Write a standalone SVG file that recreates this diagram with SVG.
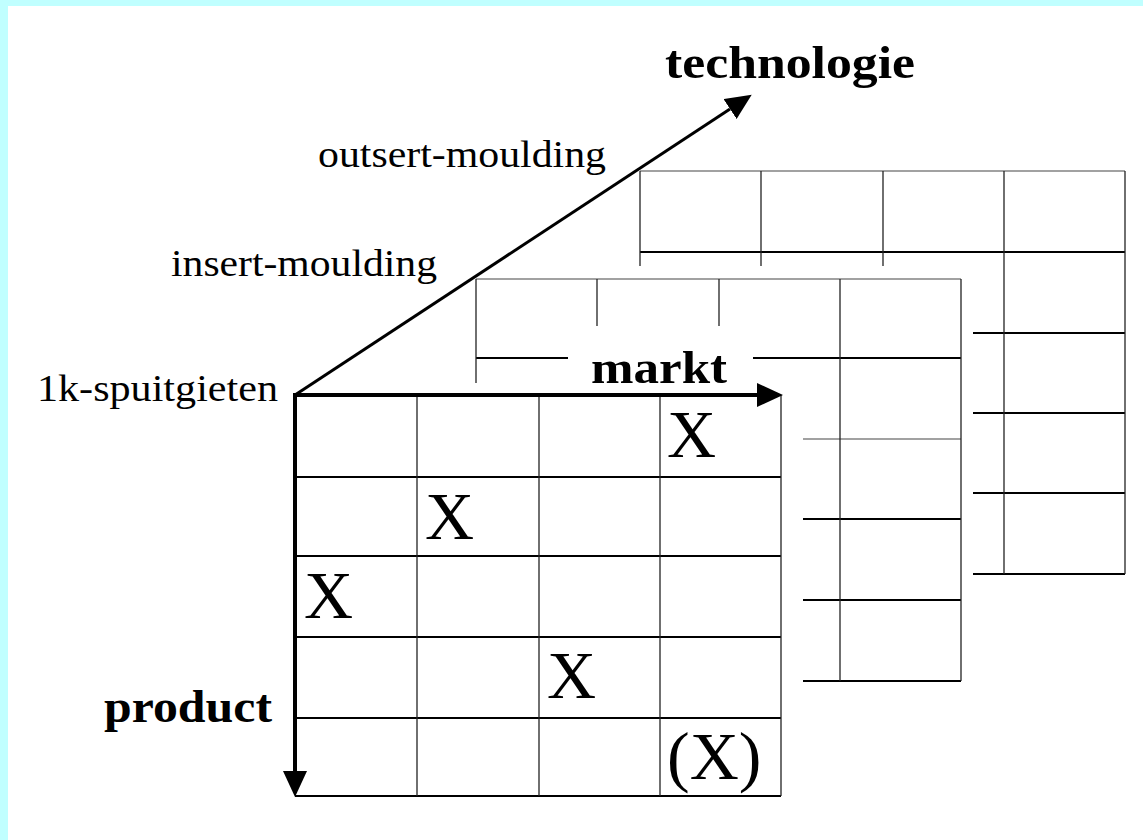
<svg xmlns="http://www.w3.org/2000/svg" width="1143" height="840" viewBox="0 0 1143 840">
  <style>
    .bg { fill: #ffffff; }
    .frame { fill: #c0ffff; }
    .v { stroke: #222; stroke-width: 1.3; fill: none; }
    .h { stroke: #000; stroke-width: 1.8; fill: none; }
    .t { stroke: #444; stroke-width: 1.2; fill: none; }
    .axis { stroke: #000; fill: none; }
    .lbl { font-family: "Liberation Serif", "Times New Roman", serif; font-size: 38px; fill: #000; }
    .bold { font-family: "Liberation Serif", "Times New Roman", serif; font-weight: bold; font-size: 46px; fill: #000; }
    .x { font-family: "Liberation Serif", "Times New Roman", serif; font-size: 68px; fill: #000; }
  </style>
  <defs>
    <marker id="arrow" viewBox="0 -12 26 24" refX="0" refY="0" markerWidth="26" markerHeight="24" markerUnits="userSpaceOnUse" orient="auto">
      <path d="M0,-12 L26,0 L0,12 z" fill="#000"/>
    </marker>
  </defs>

  <rect class="bg" x="0" y="0" width="1143" height="840"/>
  <rect class="frame" x="0" y="0" width="1143" height="6"/>
  <rect class="frame" x="0" y="0" width="8" height="840"/>

  <g id="grid-back">
    <line class="t" x1="640" y1="171" x2="1125" y2="171"/>
    <line class="h" x1="640" y1="252" x2="1125" y2="252"/>
    <line class="h" x1="973" y1="333" x2="1125" y2="333"/>
    <line class="h" x1="973" y1="413" x2="1125" y2="413"/>
    <line class="h" x1="973" y1="493" x2="1125" y2="493"/>
    <line class="h" x1="973" y1="574" x2="1125" y2="574"/>
    <line class="v" x1="640" y1="171" x2="640" y2="266"/>
    <line class="v" x1="761" y1="171" x2="761" y2="266"/>
    <line class="v" x1="883" y1="171" x2="883" y2="266"/>
    <line class="v" x1="1004" y1="171" x2="1004" y2="574"/>
    <line class="v" x1="1125" y1="171" x2="1125" y2="574"/>
  </g>

  <g id="grid-middle">
    <line class="t" x1="476" y1="279" x2="961" y2="279"/>
    <line class="h" x1="476" y1="358" x2="568" y2="358"/>
    <line class="h" x1="753" y1="358" x2="961" y2="358"/>
    <line class="t" x1="803" y1="439" x2="961" y2="439"/>
    <line class="h" x1="803" y1="519" x2="961" y2="519"/>
    <line class="h" x1="803" y1="600" x2="961" y2="600"/>
    <line class="h" x1="803" y1="681" x2="961" y2="681"/>
    <line class="v" x1="476" y1="279" x2="476" y2="383"/>
    <line class="v" x1="597" y1="279" x2="597" y2="326"/>
    <line class="v" x1="719" y1="279" x2="719" y2="326"/>
    <line class="v" x1="840" y1="279" x2="840" y2="681"/>
    <line class="v" x1="961" y1="279" x2="961" y2="681"/>
  </g>

  <g id="grid-front">
    <line class="h" x1="295" y1="477" x2="781" y2="477"/>
    <line class="h" x1="295" y1="556" x2="781" y2="556"/>
    <line class="h" x1="295" y1="637" x2="781" y2="637"/>
    <line class="h" x1="295" y1="718" x2="781" y2="718"/>
    <line class="h" x1="295" y1="796" x2="781" y2="796"/>
    <line class="v" x1="417" y1="395" x2="417" y2="796"/>
    <line class="v" x1="539" y1="395" x2="539" y2="796"/>
    <line class="v" x1="660" y1="395" x2="660" y2="796"/>
    <line class="v" x1="781" y1="395" x2="781" y2="796"/>
    <text class="x" x="667" y="457">X</text>
    <text class="x" x="425" y="539">X</text>
    <text class="x" x="304" y="618">X</text>
    <text class="x" x="547" y="698">X</text>
    <text class="x" x="667" y="779">(X)</text>
  </g>

  <g id="connectors">
    <line class="axis" x1="295" y1="395" x2="757" y2="395" stroke-width="4" marker-end="url(#arrow)"/>
    <line class="axis" x1="295" y1="393" x2="295" y2="771" stroke-width="4" marker-end="url(#arrow)"/>
    <line class="axis" x1="295" y1="395" x2="730" y2="109" stroke-width="3" marker-end="url(#arrow)"/>
  </g>

  <g id="labels">
    <text class="bold" x="665" y="78" textLength="250" lengthAdjust="spacingAndGlyphs">technologie</text>
    <text class="lbl" x="318" y="167" textLength="288" lengthAdjust="spacingAndGlyphs">outsert-moulding</text>
    <text class="lbl" x="171" y="276" textLength="266" lengthAdjust="spacingAndGlyphs">insert-moulding</text>
    <text class="lbl" x="37" y="401" textLength="241" lengthAdjust="spacingAndGlyphs">1k-spuitgieten</text>
    <text class="bold" x="591" y="383" textLength="136" lengthAdjust="spacingAndGlyphs">markt</text>
    <text class="bold" x="104" y="722" textLength="168" lengthAdjust="spacingAndGlyphs">product</text>
  </g>
</svg>
